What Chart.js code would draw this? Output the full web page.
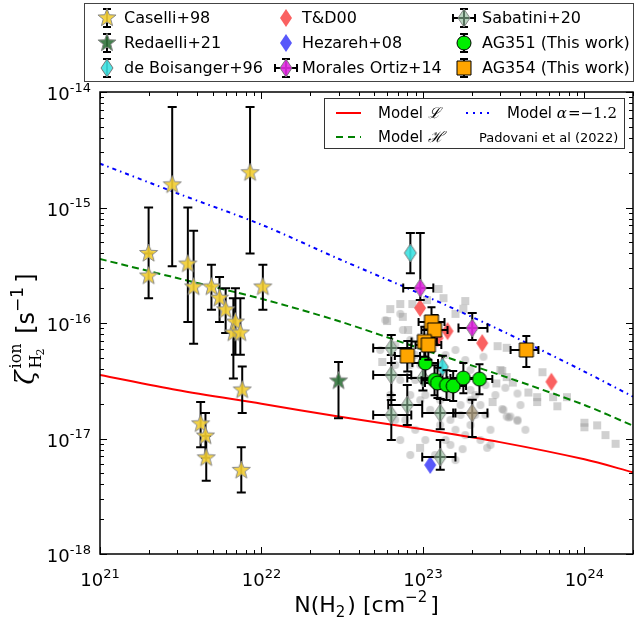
<!DOCTYPE html>
<html>
<head>
<meta charset="utf-8">
<script src="https://cdn.jsdelivr.net/npm/chart.js@4.4.0/dist/chart.umd.min.js"></script>
<style>
  html, body { margin: 0; padding: 0; background: #fff; }
  #chart { display: block; }
</style>
</head>
<body>
<canvas id="chart" width="636" height="622"></canvas>
<script>
// ---------- data ----------
const xTicks = [1e21, 1e22, 1e23, 1e24];
const xTickExp = ['21', '22', '23', '24'];
const yTicks = [1e-14, 1e-15, 1e-16, 1e-17, 1e-18];
const yTickExp = ['-14', '-15', '-16', '-17', '-18'];

// model curves
const modelN = [1e21, 3e21, 1e22, 3e22, 1e23, 3e23, 1e24, 2e24];
const modelL = [3.55e-17, 2.63e-17, 2.0e-17, 1.55e-17, 1.2e-17, 9.3e-18, 6.6e-18, 5.1e-18];
const modelH = [3.58e-16, 2.45e-16, 1.62e-16, 1.04e-16, 5.9e-17, 3.55e-17, 1.95e-17, 1.29e-17];
const modelAlpha = [2.4e-15, 1.33e-15, 7.1e-16, 3.6e-16, 1.75e-16, 8.7e-17, 3.8e-17, 2.3e-17];

// Caselli+98
const caselliN = [2.0e21, 2.0e21, 2.8e21, 3.5e21, 3.8e21, 4.9e21, 5.5e21, 6.0e21, 6.9e21, 6.7e21, 7.4e21, 7.6e21, 8.5e21, 1.02e22, 4.2e21, 4.5e21, 4.55e21, 7.5e21];
const caselliZ = [4.0e-16, 2.55e-16, 1.57e-15, 3.24e-16, 2.05e-16, 2.05e-16, 1.64e-16, 1.3e-16, 1.02e-16, 8.2e-17, 8.2e-17, 2.63e-17, 2.0e-15, 2.05e-16, 1.34e-17, 1.05e-17, 6.8e-18, 5.3e-18];
const caselliZlo = [1.64e-16, 1.64e-16, 3.1e-16, 1.02e-16, 6.6e-17, 1.3e-16, 1.02e-16, 8.2e-17, 5.3e-17, 3.3e-17, 5.3e-17, 1.66e-17, 4.0e-16, 1.3e-16, 8.4e-18, 6.8e-18, 4.3e-18, 3.4e-18];
const caselliZhi = [1.0e-15, 4.0e-16, 7.4e-15, 1.0e-15, 6.3e-16, 3.2e-16, 2.5e-16, 2.0e-16, 2.0e-16, 1.64e-16, 1.64e-16, 4.2e-17, 7.4e-15, 3.2e-16, 2.07e-17, 1.66e-17, 1.05e-17, 8.4e-18];

// Redaelli+21
const redaelliN = [3.0e22];
const redaelliZ = [3.15e-17];
const redaelliZlo = [1.5e-17];
const redaelliZhi = [4.6e-17];

// de Boisanger+96
const boisN = [8.36e22, 1.32e23];
const boisZ = [4.04e-16, 4.16e-17];
const boisZlo = [2.7e-16, 3.3e-17];
const boisZhi = [6.0e-16, 5.2e-17];

// T&D00
const tdN = [9.6e22, 1.23e23, 1.42e23, 2.33e23, 6.25e23];
const tdZ = [1.35e-16, 7.4e-17, 8.5e-17, 6.7e-17, 3.1e-17];

// Hezareh+08
const hezN = [1.11e23];
const hezZ = [5.9e-18];

// Morales Ortiz+14
const moralesN = [9.63e22, 2.02e23];
const moralesNlo = [7.55e22, 1.66e23];
const moralesNhi = [1.16e23, 2.51e23];
const moralesZ = [2.01e-16, 9.06e-17];
const moralesZlo = [1.58e-16, 7.13e-17];
const moralesZhi = [6.0e-16, 1.22e-16];

// Sabatini+20
const sabN = [6.37e22, 6.37e22, 6.37e22, 8.0e22, 1.0e23, 1.28e23, 1.28e23, 2.02e23];
const sabNlo = [4.92e22, 4.92e22, 4.92e22, 6.1e22, 8.0e22, 9.9e22, 9.9e22, 1.54e23];
const sabNhi = [8.47e22, 8.47e22, 8.47e22, 9.9e22, 1.28e23, 1.59e23, 1.59e23, 2.51e23];
const sabZ = [6.08e-17, 3.55e-17, 1.6e-17, 1.95e-17, 3.34e-17, 1.66e-17, 6.9e-18, 1.66e-17];
const sabZlo = [4.5e-17, 2.15e-17, 9.7e-18, 1.31e-17, 2.6e-17, 1.2e-17, 5.37e-18, 1.03e-17];
const sabZhi = [7.87e-17, 5.28e-17, 2.38e-17, 2.9e-17, 4.3e-17, 2.2e-17, 9.7e-18, 2.16e-17];

// AG351 (This work)
const ag351N = [1.035e23, 1.18e23, 1.23e23, 1.40e23, 1.54e23, 1.78e23, 2.24e23];
const ag351Nlo = [8.6e22, 9.8e22, 1.03e23, 1.17e23, 1.28e23, 1.48e23, 1.87e23];
const ag351Nhi = [1.24e23, 1.42e23, 1.48e23, 1.68e23, 1.85e23, 2.14e23, 2.69e23];
const ag351Z = [4.5e-17, 3.2e-17, 3.02e-17, 2.9e-17, 2.85e-17, 3.34e-17, 3.27e-17];
const ag351Zlo = [3.33e-17, 2.37e-17, 2.24e-17, 2.15e-17, 2.11e-17, 2.47e-17, 2.42e-17];
const ag351Zhi = [6.1e-17, 4.3e-17, 4.1e-17, 3.9e-17, 3.85e-17, 4.5e-17, 4.4e-17];

// AG354 (This work)
const ag354N = [1.13e23, 1.18e23, 1.02e23, 1.08e23, 8.0e22, 4.37e23];
const ag354Nlo = [9.4e22, 9.8e22, 8.5e22, 9.0e22, 6.7e22, 3.49e23];
const ag354Nhi = [1.36e23, 1.42e23, 1.22e23, 1.3e23, 9.6e22, 5.19e23];
const ag354Z = [1.02e-16, 8.7e-17, 6.9e-17, 6.45e-17, 5.18e-17, 5.84e-17];
const ag354Zlo = [7.6e-17, 6.5e-17, 5.1e-17, 4.8e-17, 3.8e-17, 4.16e-17];
const ag354Zhi = [1.37e-16, 1.17e-16, 9.3e-17, 8.7e-17, 7.0e-17, 7.7e-17];

// background sample (grey squares and circles)
const greySqN = [1.25e23, 1.34e23, 1.83e23, 1.06e23, 8.6e22, 7.24e22, 6.28e22, 1.59e23, 1.78e23, 7.5e22, 6.0e22, 8.1e22, 5.6e22, 2.9e23, 3.3e23, 3.02e23, 2.85e23, 3.6e23, 2.7e23, 4.5e23, 5.1e23, 9.6e22, 3.1e23, 3.3e23, 5.5e23, 5.1e23, 6.4e23, 6.8e23, 7.8e23, 1.0e24, 1.0e24, 1.2e24, 1.35e24, 1.56e24];
const greySqZ = [1.97e-16, 1.64e-16, 1.55e-16, 1.58e-16, 1.46e-16, 1.46e-16, 1.32e-16, 1.2e-16, 1.33e-16, 1.13e-16, 1.04e-16, 8.7e-17, 4.6e-17, 6.3e-17, 6.1e-17, 3.92e-17, 3.0e-17, 3.05e-17, 2.07e-17, 2.5e-17, 2.07e-17, 8.3e-18, 3.85e-17, 3.4e-17, 3.75e-17, 2.28e-17, 2.28e-17, 1.9e-17, 2.28e-17, 1.37e-17, 1.25e-17, 1.3e-17, 1.07e-17, 9.0e-18];
const greyCiN = [7.24e22, 5.85e22, 7.5e22, 1.76e23, 2.5e23, 1.59e23, 3.48e23, 3.85e23, 3.15e23, 2.37e23, 3.24e23, 3.85e23, 3.1e23, 3.3e23, 3.4e23, 3.85e23, 5.44e22, 6.74e22, 8.35e22, 8.97e22, 9.63e22, 1.11e23, 1.38e23, 1.59e23, 1.83e23, 1.97e23, 2.11e23, 2.27e23, 2.44e23, 2.62e23, 1.97e23, 1.71e23, 1.48e23, 1.28e23, 1.11e23, 9.63e22, 8.35e22, 7.78e22, 8.97e22, 1.035e23, 1.38e23, 1.83e23, 7.24e22, 6.28e22, 1.97e23, 2.81e23,
    6.74e22, 7.24e22, 8.35e22, 1.19e23, 1.48e23, 1.59e23, 1.71e23, 2.11e23, 2.62e23, 2.27e23, 8.97e22, 1.28e23, 1.48e23, 1.035e23, 6.74e22, 8.35e22, 1.97e23, 2.44e23, 4.02e23, 4.31e23];
const greyCiZ = [1.2e-16, 1.06e-16, 8.7e-17, 8.1e-18, 8.3e-18, 6.5e-18, 1.55e-17, 1.45e-17, 1.77e-17, 5.1e-17, 2.75e-17, 2.45e-17, 1.8e-17, 1.55e-17, 1.52e-17, 1.42e-17, 5.84e-17, 6.45e-17, 7.13e-17, 5.28e-17, 4.33e-17, 5.84e-17, 5.28e-17, 5.84e-17, 4.78e-17, 3.92e-17, 2.38e-17, 1.95e-17, 1.6e-17, 1.19e-17, 1.31e-17, 1.6e-17, 1.45e-17, 1.31e-17, 1.77e-17, 2.15e-17, 2.38e-17, 1.45e-17, 1.19e-17, 9.7e-18, 9.7e-18, 1.07e-17, 3.21e-17, 2.38e-17, 2.15e-17, 2.38e-17,
    1.45e-17, 9.7e-18, 7.2e-18, 7.2e-18, 8.8e-18, 1.19e-17, 1.95e-17, 1.6e-17, 8.8e-18, 9.7e-18, 3.21e-17, 2.15e-17, 2.38e-17, 2.38e-17, 4.33e-17, 4.33e-17, 2.63e-17, 2.9e-17, 1.95e-17, 1.19e-17];

// ---------- marker images ----------
function shapePath(g, kind, cx, cy, w, h) {
    g.beginPath();
    if (kind === 'star') {
        const R = w / 2, r = R * 0.42;
        for (let i = 0; i < 10; i++) {
            const a = -Math.PI / 2 + i * Math.PI / 5;
            const rr = i % 2 ? r : R;
            g.lineTo(cx + rr * Math.cos(a), cy + rr * Math.sin(a));
        }
        g.closePath();
    } else if (kind === 'diamond') {
        g.moveTo(cx, cy - h / 2);
        g.lineTo(cx + w / 2, cy);
        g.lineTo(cx, cy + h / 2);
        g.lineTo(cx - w / 2, cy);
        g.closePath();
    } else if (kind === 'square') {
        g.rect(cx - w / 2, cy - h / 2, w, h);
    } else {
        g.arc(cx, cy, w / 2, 0, Math.PI * 2);
    }
}

function drawShape(g, m, cx, cy) {
    shapePath(g, m.kind, cx, cy, m.w, m.h);
    g.fillStyle = m.fill;
    g.fill();
    if (m.lw) {
        g.lineWidth = m.lw;
        g.strokeStyle = m.stroke;
        g.stroke();
    }
}

function markerImage(m) {
    const c = document.createElement('canvas');
    c.width = Math.ceil(m.w + 4);
    c.height = Math.ceil(m.h + 4);
    drawShape(c.getContext('2d'), m, c.width / 2, c.height / 2);
    return c;
}

const mk = {
    caselli: { kind: 'star', w: 19, h: 19, fill: 'rgba(242,205,50,0.9)', stroke: '#8a8a8a', lw: 1 },
    redaelli: { kind: 'star', w: 19, h: 19, fill: 'rgba(50,115,60,0.9)', stroke: '#8a8a8a', lw: 1 },
    bois: { kind: 'diamond', w: 12, h: 18, fill: 'rgba(60,225,225,0.9)', stroke: '#777', lw: 1 },
    td: { kind: 'diamond', w: 12, h: 18, fill: 'rgba(250,80,80,0.9)', stroke: 'rgba(250,80,80,0.9)', lw: 0 },
    hez: { kind: 'diamond', w: 12, h: 18, fill: 'rgba(70,70,250,0.9)', stroke: '#55f', lw: 0 },
    morales: { kind: 'diamond', w: 12, h: 18, fill: 'rgba(225,40,225,0.9)', stroke: '#777', lw: 1 },
    sab: { kind: 'diamond', w: 12, h: 18, fill: 'rgba(140,185,150,0.6)', stroke: '#888', lw: 1 },
    sabTan: { kind: 'diamond', w: 12, h: 18, fill: 'rgba(175,160,130,0.8)', stroke: '#888', lw: 1 },
    ag351: { kind: 'circle', w: 14, h: 14, fill: '#00ee00', stroke: '#000', lw: 1 },
    ag354: { kind: 'square', w: 14, h: 14, fill: '#ffa500', stroke: '#000', lw: 1 },
    greySq: { kind: 'square', w: 8, h: 8, fill: 'rgba(150,150,150,0.45)', lw: 0 },
    greyCi: { kind: 'circle', w: 8, h: 8, fill: 'rgba(150,150,150,0.42)', lw: 0 }
};

function points(N, Z, opt) {
    opt = opt || {};
    return N.map((n, i) => ({
        x: n, y: Z[i],
        xMin: opt.Nlo ? opt.Nlo[i] : undefined,
        xMax: opt.Nhi ? opt.Nhi[i] : undefined,
        yMin: opt.Zlo ? opt.Zlo[i] : undefined,
        yMax: opt.Zhi ? opt.Zhi[i] : undefined
    }));
}

function scatter(label, data, marker, err) {
    const img = Array.isArray(marker) ? marker.map(markerImage) : markerImage(marker);
    return { type: 'scatter', label, data, pointStyle: img, pointRadius: 6, errorBars: err };
}

function model(label, Z, color, dash) {
    return {
        type: 'line', label,
        data: modelN.map((n, i) => ({ x: n, y: Z[i] })),
        borderColor: color, borderWidth: 2, borderDash: dash,
        pointRadius: 0, tension: 0.3, fill: false
    };
}

// bottom -> top drawing order
const layers = [
    scatter('grey circles', points(greyCiN, greyCiZ), mk.greyCi),
    scatter('grey squares', points(greySqN, greySqZ), mk.greySq),
    model('Model L', modelL, '#ff0000', []),
    model('Model H', modelH, '#008000', [7, 4]),
    model('Model alpha', modelAlpha, '#0000ff', [4, 4, 1.5, 4]),
    scatter('Caselli+98', points(caselliN, caselliZ, { Zlo: caselliZlo, Zhi: caselliZhi }), mk.caselli, { width: 2, cap: 9 }),
    scatter('Redaelli+21', points(redaelliN, redaelliZ, { Zlo: redaelliZlo, Zhi: redaelliZhi }), mk.redaelli, { width: 2, cap: 9 }),
    scatter('de Boisanger+96', points(boisN, boisZ, { Zlo: boisZlo, Zhi: boisZhi }), mk.bois, { width: 2, cap: 9 }),
    scatter('T&D00', points(tdN, tdZ), mk.td),
    scatter('Hezareh+08', points(hezN, hezZ), mk.hez),
    scatter('Morales Ortiz+14', points(moralesN, moralesZ, { Nlo: moralesNlo, Nhi: moralesNhi, Zlo: moralesZlo, Zhi: moralesZhi }), mk.morales, { width: 2, cap: 9 }),
    scatter('Sabatini+20', points(sabN, sabZ, { Nlo: sabNlo, Nhi: sabNhi, Zlo: sabZlo, Zhi: sabZhi }),
        [mk.sab, mk.sab, mk.sab, mk.sab, mk.sab, mk.sab, mk.sab, mk.sabTan], { width: 2, cap: 9 }),
    scatter('AG351 (This work)', points(ag351N, ag351Z, { Nlo: ag351Nlo, Nhi: ag351Nhi, Zlo: ag351Zlo, Zhi: ag351Zhi }), mk.ag351, { width: 2, cap: 8 }),
    scatter('AG354 (This work)', points(ag354N, ag354Z, { Nlo: ag354Nlo, Nhi: ag354Nhi, Zlo: ag354Zlo, Zhi: ag354Zhi }), mk.ag354, { width: 2, cap: 8 })
];
layers.forEach((d, i) => { d.order = layers.length - i; });

// ---------- plugins ----------
function errPath(ctx, p, xs, ys, cap) {
    const px = xs.getPixelForValue(p.x), py = ys.getPixelForValue(p.y);
    if (p.yMin !== undefined) {
        const y0 = ys.getPixelForValue(p.yMin), y1 = ys.getPixelForValue(p.yMax);
        ctx.moveTo(px, y0); ctx.lineTo(px, y1);
        ctx.moveTo(px - cap, y0); ctx.lineTo(px + cap, y0);
        ctx.moveTo(px - cap, y1); ctx.lineTo(px + cap, y1);
    }
    if (p.xMin !== undefined) {
        const x0 = xs.getPixelForValue(p.xMin), x1 = xs.getPixelForValue(p.xMax);
        ctx.moveTo(x0, py); ctx.lineTo(x1, py);
        ctx.moveTo(x0, py - cap); ctx.lineTo(x0, py + cap);
        ctx.moveTo(x1, py - cap); ctx.lineTo(x1, py + cap);
    }
}

const errorBarPlugin = {
    id: 'errorBars',
    beforeDatasetDraw(chart, args) {
        const ds = chart.data.datasets[args.index];
        if (!ds.errorBars) return;
        const { ctx, chartArea: a, scales } = chart;
        ctx.save();
        ctx.beginPath();
        ctx.rect(a.left, a.top, a.right - a.left, a.bottom - a.top);
        ctx.clip();
        ctx.strokeStyle = '#000';
        ctx.lineWidth = ds.errorBars.width;
        ctx.beginPath();
        ds.data.forEach(p => errPath(ctx, p, scales.x, scales.y, ds.errorBars.cap / 2));
        ctx.stroke();
        ctx.restore();
    }
};

const SANS = '"DejaVu Sans", sans-serif';
const SERIF = '"DejaVu Serif", serif';

function powerLabel(ctx, base, exp, x, y, align, size) {
    ctx.font = size + 'px ' + SANS;
    const wb = ctx.measureText(base).width;
    ctx.font = Math.round(size * 0.7) + 'px ' + SANS;
    const we = ctx.measureText(exp).width;
    const total = wb + we;
    let x0 = align === 'right' ? x - total : x - total / 2;
    ctx.textAlign = 'left';
    ctx.textBaseline = 'alphabetic';
    ctx.font = size + 'px ' + SANS;
    ctx.fillText(base, x0, y);
    ctx.font = Math.round(size * 0.7) + 'px ' + SANS;
    ctx.fillText(exp, x0 + wb, y - size * 0.45);
}

function runs(ctx, parts, x, y) {
    // parts: [text, font, dy, extra gap]
    let cx = x;
    parts.forEach(p => {
        ctx.font = p[1];
        ctx.fillText(p[0], cx, y + (p[2] || 0));
        cx += ctx.measureText(p[0]).width + (p[3] || 0);
    });
    return cx;
}

function runsWidth(ctx, parts) {
    let w = 0;
    parts.forEach(p => { ctx.font = p[1]; w += ctx.measureText(p[0]).width + (p[3] || 0); });
    return w;
}

const legendCols = [107, 286, 464];
const legendTextX = [124, 302, 482];
const legendRows = [18, 43, 68];
const legendItems = [
    ['Caselli+98', mk.caselli, 0, 0, 'v'],
    ['Redaelli+21', mk.redaelli, 0, 1, 'v'],
    ['de Boisanger+96', mk.bois, 0, 2, 'v'],
    ['T&D00', mk.td, 1, 0, ''],
    ['Hezareh+08', mk.hez, 1, 1, ''],
    ['Morales Ortiz+14', mk.morales, 1, 2, 'vh'],
    ['Sabatini+20', mk.sab, 2, 0, 'vh'],
    ['AG351 (This work)', mk.ag351, 2, 1, 'v'],
    ['AG354 (This work)', mk.ag354, 2, 2, 'v']
];

const framePlugin = {
    id: 'frame',
    afterDraw(chart) {
        const { ctx, chartArea: a, scales } = chart;
        const xs = scales.x, ys = scales.y;
        ctx.save();
        ctx.strokeStyle = '#000';
        ctx.fillStyle = '#000';
        ctx.lineWidth = 1;

        // minor + major ticks, all four sides, pointing inward
        ctx.beginPath();
        for (let e = 21; e <= 24; e++) {
            for (let k = 1; k <= 9; k++) {
                const v = k * Math.pow(10, e);
                if (v > xs.max) break;
                const px = Math.round(xs.getPixelForValue(v)) + 0.5;
                const len = k === 1 ? 7 : 4;
                ctx.moveTo(px, a.bottom); ctx.lineTo(px, a.bottom - len);
                ctx.moveTo(px, a.top); ctx.lineTo(px, a.top + len);
            }
        }
        for (let e = -18; e <= -14; e++) {
            for (let k = 1; k <= 9; k++) {
                const v = k * Math.pow(10, e);
                if (v > ys.max * 1.0001) break;
                const py = Math.round(ys.getPixelForValue(v)) + 0.5;
                const len = k === 1 ? 7 : 4;
                ctx.moveTo(a.left, py); ctx.lineTo(a.left + len, py);
                ctx.moveTo(a.right, py); ctx.lineTo(a.right - len, py);
            }
        }
        ctx.stroke();

        // frame
        ctx.lineWidth = 1.5;
        ctx.strokeRect(a.left, a.top, a.right - a.left, a.bottom - a.top);

        // tick labels
        xTicks.forEach((v, i) => powerLabel(ctx, '10', xTickExp[i], xs.getPixelForValue(v), a.bottom + 32, 'center', 18));
        yTicks.forEach((v, i) => powerLabel(ctx, '10', yTickExp[i], a.left - 9, ys.getPixelForValue(v) + 8, 'right', 18));

        // x title
        const xt = [
            ['N(H', '22px ' + SANS, 0],
            ['2', '15px ' + SANS, 5, 2],
            [') [cm', '22px ' + SANS, 0],
            ['\u22122', '15px ' + SANS, -10, 3],
            [']', '22px ' + SANS, 0]
        ];
        ctx.textAlign = 'left';
        ctx.textBaseline = 'alphabetic';
        runs(ctx, xt, (a.left + a.right) / 2 - runsWidth(ctx, xt) / 2, 612);

        // y title (rotated)
        ctx.save();
        ctx.translate(34, 329);
        ctx.rotate(-Math.PI / 2);
        const tail = [
            [' [s', '24px ' + SANS, 0],
            ['\u22121', '17px ' + SANS, -11, 4],
            [']', '24px ' + SANS, 0]
        ];
        ctx.font = 'italic 26px ' + SERIF;
        const wz = ctx.measureText('\u03b6').width;
        ctx.font = '16px ' + SERIF;
        const wsup = Math.max(ctx.measureText('ion').width, ctx.measureText('H').width + 9) + 2;
        const totalW = wz + 2 + wsup + runsWidth(ctx, tail);
        let x0 = -totalW / 2;
        ctx.font = 'italic 26px ' + SERIF;
        ctx.fillText('\u03b6', x0, 0);
        x0 += wz + 2;
        ctx.font = '16px ' + SERIF;
        ctx.fillText('ion', x0, -13);
        ctx.fillText('H', x0, 7);
        ctx.font = '11px ' + SERIF;
        ctx.fillText('2', x0 + 13, 10);
        runs(ctx, tail, x0 + wsup, 0);
        ctx.restore();

        // main legend
        ctx.fillStyle = '#fff';
        ctx.fillRect(84, 3, 550, 79);
        ctx.strokeStyle = '#444';
        ctx.lineWidth = 1;
        ctx.strokeRect(84.5, 3.5, 549, 78);
        legendItems.forEach(it => {
            const cx = legendCols[it[2]], cy = legendRows[it[3]];
            ctx.strokeStyle = '#000';
            ctx.lineWidth = 2;
            ctx.beginPath();
            if (it[4].indexOf('v') >= 0) {
                ctx.moveTo(cx, cy - 9); ctx.lineTo(cx, cy + 9);
                ctx.moveTo(cx - 4, cy - 9); ctx.lineTo(cx + 4, cy - 9);
                ctx.moveTo(cx - 4, cy + 9); ctx.lineTo(cx + 4, cy + 9);
            }
            if (it[4].indexOf('h') >= 0) {
                ctx.moveTo(cx - 11, cy); ctx.lineTo(cx + 11, cy);
                ctx.moveTo(cx - 11, cy - 4); ctx.lineTo(cx - 11, cy + 4);
                ctx.moveTo(cx + 11, cy - 4); ctx.lineTo(cx + 11, cy + 4);
            }
            ctx.stroke();
            drawShape(ctx, it[1], cx, cy);
            ctx.fillStyle = '#000';
            ctx.font = '16px ' + SANS;
            ctx.textBaseline = 'middle';
            ctx.fillText(it[0], legendTextX[it[2]], cy + 1);
        });

        // model legend
        ctx.fillStyle = '#fff';
        ctx.fillRect(324, 98, 300, 50);
        ctx.strokeStyle = '#333';
        ctx.lineWidth = 1;
        ctx.strokeRect(324.5, 98.5, 300, 50);
        ctx.lineWidth = 2;
        const lineKey = (y, x0, x1, color, dash) => {
            ctx.strokeStyle = color;
            ctx.setLineDash(dash);
            ctx.beginPath(); ctx.moveTo(x0, y); ctx.lineTo(x1, y); ctx.stroke();
            ctx.setLineDash([]);
        };
        lineKey(113, 336, 361, '#ff0000', []);
        lineKey(137, 336, 361, '#008000', [7, 5]);
        lineKey(113, 466, 490, '#0000ff', [2, 5]);
        ctx.fillStyle = '#000';
        ctx.textBaseline = 'middle';
        runs(ctx, [['Model ', '15px ' + SANS, 0], ['\u2112', 'italic 15px ' + SERIF, 0]], 378, 114);
        runs(ctx, [['Model ', '15px ' + SANS, 0], ['\u210b', 'italic 15px ' + SERIF, 0]], 378, 138);
        runs(ctx, [['Model ', '15px ' + SANS, 0], ['\u03b1', 'italic 15px ' + SERIF, 0, 1], ['=\u22121.2', '15px ' + SERIF, 0]], 507, 114);
        ctx.font = '13px ' + SANS;
        ctx.fillText('Padovani et al (2022)', 479, 139);
        ctx.restore();
    }
};

new Chart(document.getElementById('chart'), {
    type: 'scatter',
    data: { datasets: layers },
    options: {
        responsive: false,
        animation: false,
        events: [],
        layout: { autoPadding: false, padding: { left: 100, top: 92, right: 3, bottom: 68 } },
        plugins: { legend: { display: false }, tooltip: { enabled: false } },
        scales: {
            x: { type: 'logarithmic', min: 1e21, max: 2e24, display: false },
            y: { type: 'logarithmic', min: 1e-18, max: 1e-14, display: false }
        }
    },
    plugins: [errorBarPlugin, framePlugin]
});
</script>
</body>
</html>
